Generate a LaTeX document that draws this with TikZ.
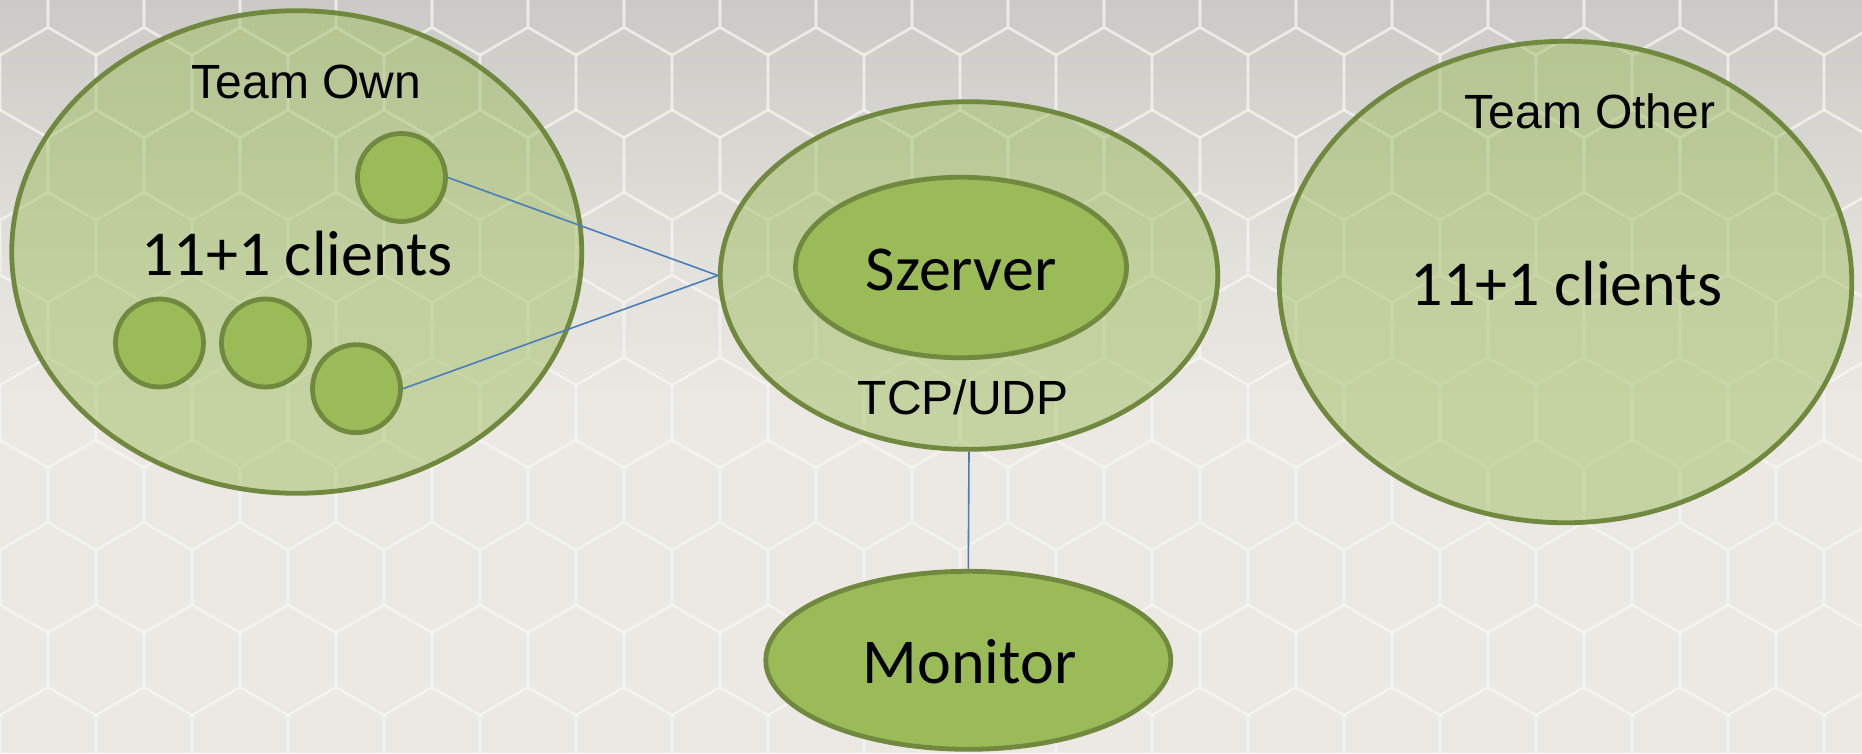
\documentclass[tikz,border=0pt]{standalone}
\usepackage{fontspec}
\newfontfamily\arialf{Liberation Sans}
\newfontfamily\calibrif{Carlito}
\usetikzlibrary{shapes.geometric}

\definecolor{olivefill}{HTML}{9BBB59}
\definecolor{oliveline}{HTML}{71893F}
\definecolor{linkblue}{HTML}{4A7EBB}
\definecolor{bgtop}{HTML}{CBCAC6}
\definecolor{bgmid}{HTML}{E3E1DC}
\definecolor{bgbot}{HTML}{ECE9E5}
\definecolor{netline}{HTML}{F7F6F3}

\tikzset{
  zone/.style={ellipse, draw=oliveline, line width=4.8pt, fill=olivefill,
    fill opacity=0.47, draw opacity=1, inner sep=0pt},
  core/.style={ellipse, draw=oliveline, line width=4.8pt, fill=olivefill, inner sep=0pt},
  player/.style={circle, draw=oliveline, line width=4.8pt, fill=olivefill,
    inner sep=0pt, minimum size=88pt},
  link/.style={draw=linkblue, line width=1.6pt},
  net/.style={draw=netline, line width=2.6pt, opacity=0.5, line join=round},
  armtext/.style={font=\arialf\fontsize{48}{56}\selectfont, inner sep=0pt, anchor=base},
  calitext/.style={font=\calibrif\fontsize{64}{76}\selectfont, inner sep=0pt, anchor=base},
}

\begin{document}
\begin{tikzpicture}[x=1pt, y=-1pt]
  \useasboundingbox (0,0) rectangle (1862,753);

  % backdrop: goal-net photo, darker towards the top
  \fill[bgbot] (0,0) rectangle (1862,753);
  \shade[top color=bgtop, bottom color=bgmid] (0,0) rectangle (1862,260);
  \shade[top color=bgmid, bottom color=bgbot] (0,259) rectangle (1862,420);

  % hexagonal net mesh
  \foreach \r in {0,...,10} {
    \foreach \c in {-1,...,20} {
      \pgfmathsetmacro\hx{\c*96+mod(\r,2)*48}
      \pgfmathsetmacro\hy{\r*82.5}
      \draw[net, shift={(\hx,\hy)}]
        (30:55pt) -- (90:55pt) -- (150:55pt) -- (210:55pt) -- (270:55pt) -- (330:55pt) -- cycle;
    }
  }

  % team and server areas
  \node[zone, minimum width=570pt, minimum height=482.6pt] (own) at (296.75,252) {};
  \node[zone, minimum width=572.5pt, minimum height=481.5pt] (other) at (1565.5,282) {};
  \node[zone, minimum width=497.5pt, minimum height=347.6pt] (server) at (969,275.5) {};
  \node[core, minimum width=331pt, minimum height=180.5pt] (szerver) at (961,267.5) {};
  \node[core, minimum width=405pt, minimum height=178pt] (monitor) at (968.3,660.3) {};

  % clients of the own team
  \node[player] (c1) at (401.5,177.5) {};
  \node[player] (c2) at (159.5,343) {};
  \node[player] (c3) at (265.5,343) {};
  \node[player] (c4) at (356.5,388.7) {};

  % connections
  \draw[link] (c1.east) -- (server.west);
  \draw[link] (c4.east) -- (server.west);
  \draw[link] (server.south) -- (monitor.north);

  % labels
  \node[armtext] (ownlbl) at (306.5,98.5) {Team Own};
  \node[calitext] (ownclients) at (297,275) {11+1 clients};
  \node[calitext] (szerverlbl) at (961,290.5) {Szerver};
  \node[armtext] (proto) at (963,414) {TCP/UDP};
  \node[armtext] (otherlbl) at (1590,128.7) {Team Other};
  \node[calitext] (otherclients) at (1566.5,305) {11+1 clients};
  \node[calitext] (monitorlbl) at (969.7,683) {Monitor};
\end{tikzpicture}
\end{document}
